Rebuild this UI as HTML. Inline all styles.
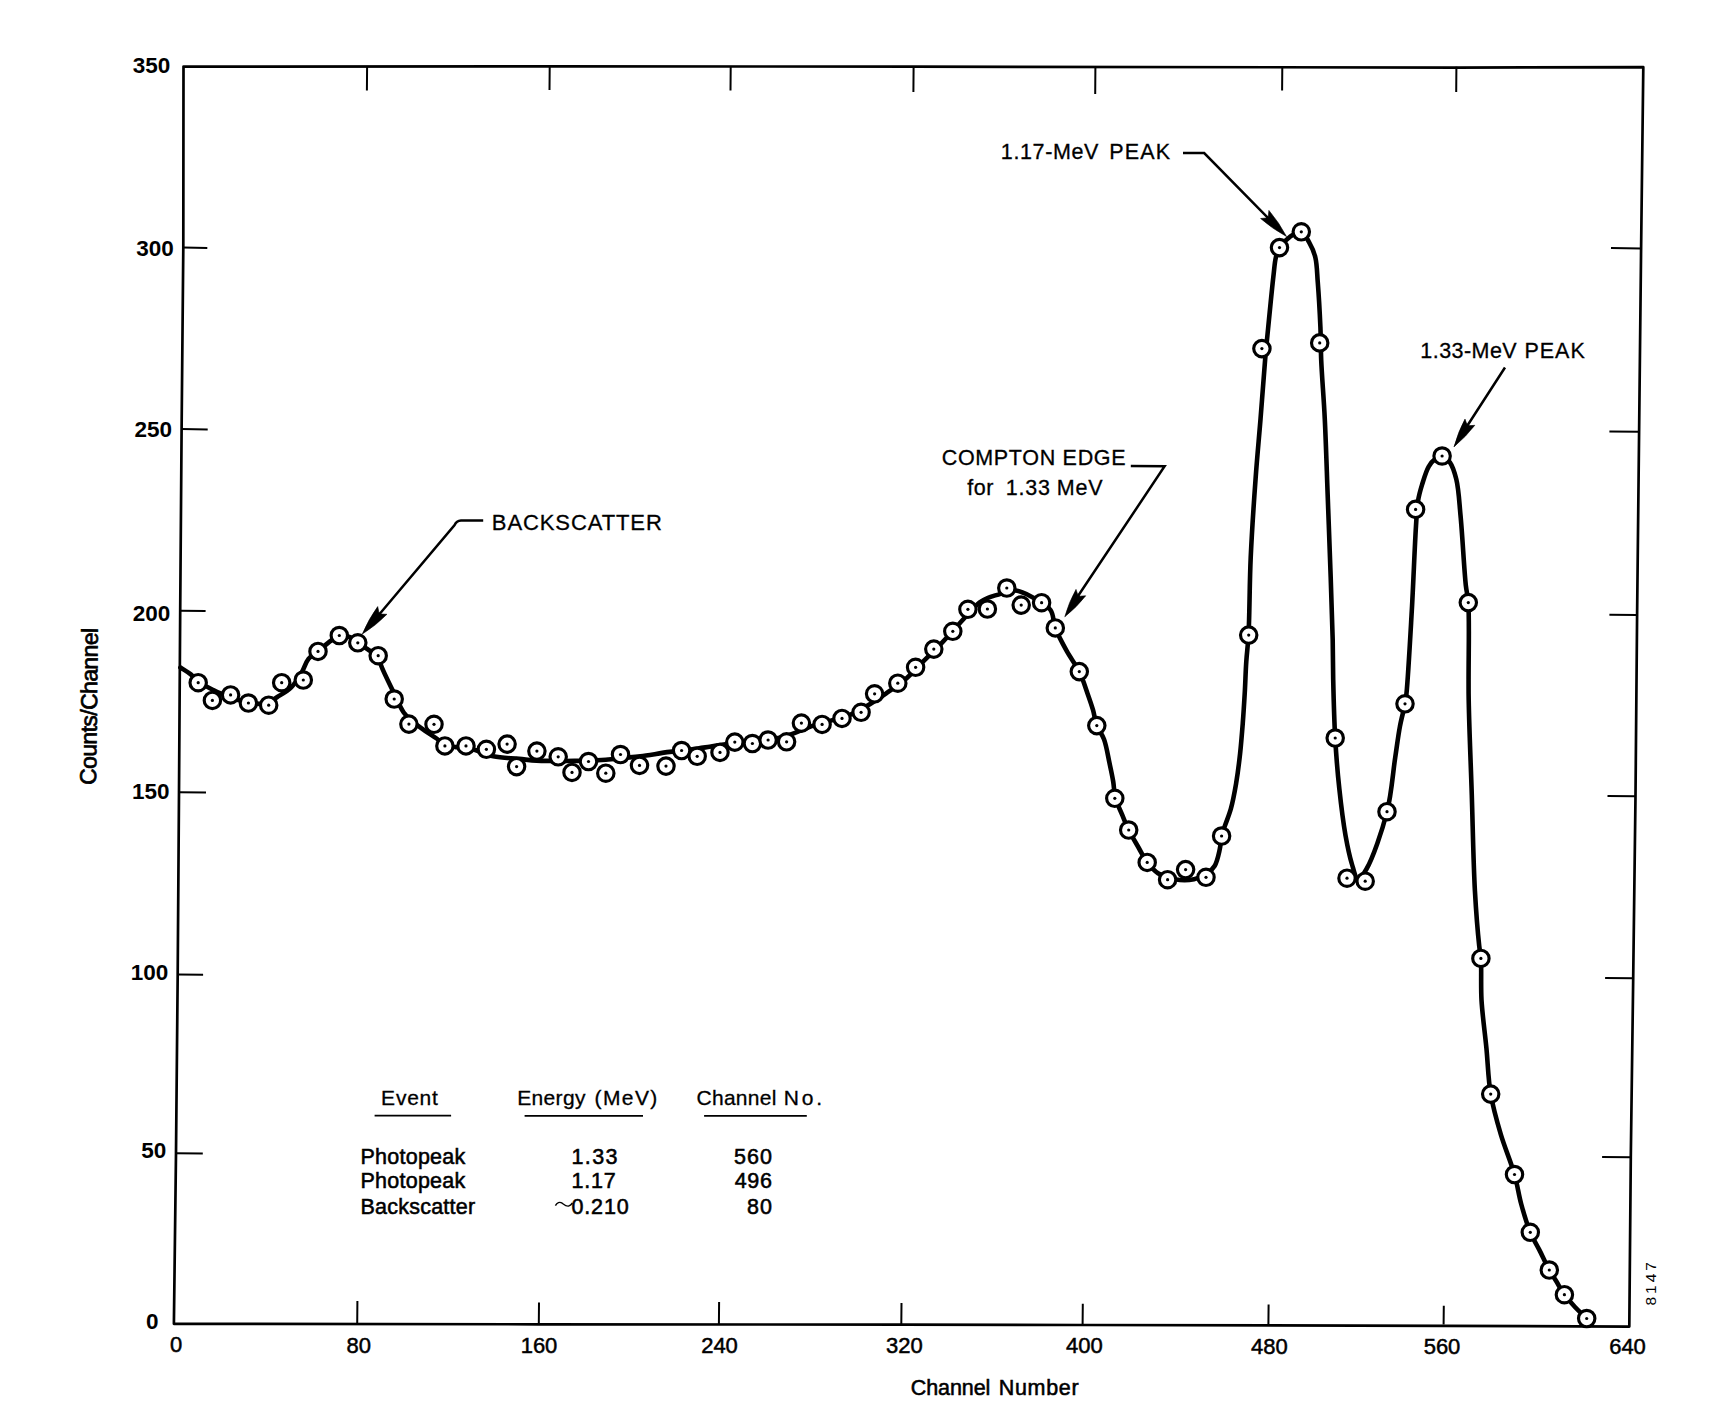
<!DOCTYPE html>
<html><head><meta charset="utf-8"><style>
html,body{margin:0;padding:0;background:#fff;}
svg{display:block;}
text{font-family:"Liberation Sans", sans-serif;fill:#000;}
</style></head><body>
<svg width="1733" height="1417" viewBox="0 0 1733 1417">
<rect width="1733" height="1417" fill="#fff"/>
<path d="M183.5,66.6 L183.3,247.6 L181.6,429.1 L180.2,610.7 L179,792.3 L177.7,974.4 L176,1153.3 L173.9,1323.8 L538.8,1324.3 L901.3,1324.6 L1082.6,1325 L1443.6,1325.8 L1629.3,1326.6 L1630.8,1157.3 L1633.2,978.3 L1635.5,796.3 L1637.1,615 L1639.1,431.8 L1641.1,248.4 L1643.3,67.2 L1456.4,67.6 L913.6,66.6 L549.7,66.3 Z" fill="none" stroke="#000" stroke-width="2.7" stroke-linejoin="round"/>
<path d="M183.3,247.6 L207.3,247.9 M181.6,429.1 L207.7,429.4 M180.2,610.7 L205.6,611 M179,792.3 L206,792.6 M177.7,974.4 L203.1,974.7 M176,1153.3 L202.8,1153.6 M1641.1,248.4 L1611,248.1 M1639.1,431.8 L1609.4,431.5 M1637.1,615 L1609.4,614.7 M1635.5,796.3 L1607.5,796 M1633.2,978.3 L1605.1,978 M1630.8,1157.3 L1602.1,1157 M367.1,66.8 L366.9,90.4 M549.7,66.8 L549.5,89.9 M730.7,66.8 L730.5,90.4 M913.6,66.8 L913.4,92 M1095.4,66.8 L1095.2,93.9 M1282.3,66.8 L1282.1,90.4 M1456.4,66.8 L1456.2,92 M357.2,1324.5 L357.4,1301.1 M538.8,1324.5 L539,1302.5 M718.9,1324.5 L719.1,1301.9 M901.3,1324.5 L901.5,1303 M1082.6,1324.5 L1082.8,1303.8 M1268.4,1324.5 L1268.6,1304.6 M1443.6,1324.5 L1443.8,1305.7" fill="none" stroke="#000" stroke-width="2"/>
<path d="M180.4,667.5 C183.9,669.8 187.7,671.9 190.8,674.4 C193.6,676.6 195.1,679.2 198.2,681.5 C202.2,684.5 208.9,687.8 213.3,690 C216.5,691.7 218.5,692.6 221.9,694 C226.6,696 234.3,698.9 239.2,700.4 C242.7,701.4 245.1,701.9 248.4,702.5 C252,703.1 256.4,704.1 260,703.9 C263.1,703.8 265.9,703.2 268.7,702.1 C271.7,700.9 274.1,699 277.3,697 C281.4,694.4 287.2,691.4 291.2,687.4 C295.3,683.3 298.6,677.6 301.6,672.7 C304.3,668.1 305.5,662.6 308.5,658.9 C311.1,655.7 314.6,654.1 318,651.4 C322,648.2 327.1,643.5 331,640.7 C334,638.5 336.2,636.1 339.3,635.5 C342.5,634.8 346.8,635.9 350,637.2 C353,638.4 354.9,640.8 357.8,642.8 C361.2,645.1 365.4,648 369,650.2 C372.2,652.2 376.2,653.1 378.2,655.7 C380.2,658.3 379.7,661.7 381.2,665.8 C383.7,672.5 389.4,683.6 393.3,691.7 C396.8,699 400,707.3 403.7,712.5 C406.4,716.3 409,718.3 412.3,721.2 C416.3,724.7 421.9,728.5 426.2,731.6 C429.9,734.2 433.4,736.2 436.6,738.5 C439.6,740.6 441.8,743.6 444.9,745 C448.1,746.5 452,746.8 455.6,747.1 C459.1,747.4 462.6,746.5 466,747 C469.4,747.5 472.2,748.9 476,750.2 C481,751.9 486.9,754.9 493.3,756.3 C501,758 511.4,758.1 519.2,758.9 C525.5,759.5 530.7,760.3 536.5,760.6 C542.3,760.9 547.8,760.8 553.9,760.9 C560.5,761 568.4,761 574.6,760.9 C579.7,760.8 583.6,760.8 588.5,760.6 C594,760.4 600,760.1 605.8,759.7 C611.6,759.3 617.3,758.6 623.1,758 C628.9,757.4 633.9,757.1 640.4,756.3 C648.9,755.2 660.6,753.1 669.8,751.9 C677.8,750.8 685.3,750.2 692.3,749.3 C698.5,748.5 703.8,747.6 709.6,746.7 C715.4,745.8 721.2,744.9 727,744.1 C732.7,743.3 738.6,742.3 744.2,741.8 C749.5,741.3 754.5,741.5 759.8,740.9 C765.4,740.3 771.4,739.6 777.1,738.3 C782.9,737 788.7,735.1 794.4,733.1 C800.2,731.1 805.6,728.3 811.7,726.2 C818.3,723.9 825.7,722.2 832.5,720.1 C839,718.1 845.4,716.8 851.6,714.1 C858.1,711.3 864.7,707.3 870.6,703.7 C876.1,700.3 880.8,697.1 886.2,693.3 C892.3,689.1 899.1,684.7 905.2,679.4 C911.8,673.8 917.9,666.7 924.3,660.4 C930.6,654.1 937.2,647.8 943.3,641.4 C949.3,635.1 954.6,628.7 960.6,622.3 C966.8,615.7 974.5,606.4 979.7,602.4 C982.7,600.1 984.5,599.3 987.5,598 C991.2,596.4 996.8,595.1 1000.4,593.8 C1003,592.9 1004.6,591.9 1007,591.3 C1009.7,590.7 1012.7,590 1016,590.5 C1020.4,591.2 1025.8,593.7 1031,596.5 C1037.3,599.9 1046.5,604.3 1050.5,610 C1054,615 1053,621.7 1055.3,627.9 C1058.1,635.3 1062.7,643.8 1066.8,651.2 C1070.7,658.3 1075.8,664.5 1079.3,671.6 C1082.7,678.6 1085.1,686.6 1087.5,693.4 C1089.6,699.3 1091.4,704.4 1093,709.9 C1094.5,715.1 1094.9,720.6 1096.8,725.5 C1098.6,730.4 1102,733.9 1104,739.3 C1106.5,746 1107.9,755.7 1109.5,763.1 C1110.9,769.6 1112.2,775.5 1113.2,781.5 C1114.1,787.1 1114,792.6 1115.4,798 C1116.9,803.6 1119.8,809 1122,814.4 C1124.2,819.7 1126.1,824.7 1128.7,830 C1131.6,835.9 1135.6,842.3 1138.8,848 C1141.7,853.1 1143.9,858.1 1147.2,862.4 C1150.4,866.5 1153.6,870.4 1158,873.2 C1162.7,876.2 1168.9,878.2 1174.8,879.2 C1180.9,880.3 1188.4,880.3 1194,879.2 C1198.6,878.3 1202.5,876.7 1206,874.4 C1209.4,872.2 1212.4,869.6 1214.6,866 C1217.2,861.7 1218.5,854.9 1219.7,849.6 C1220.8,844.9 1220.6,840.2 1221.6,836 C1222.5,832.1 1223.8,829.1 1225.2,825.1 C1226.9,820.2 1229.2,814.8 1230.9,808.7 C1232.9,801.4 1234.5,792.8 1236,784.1 C1237.6,774.5 1239,763.7 1240.1,753.5 C1241.2,743.3 1242,733 1242.8,722.8 C1243.6,712.6 1244.2,702.3 1244.8,692.1 C1245.4,681.9 1245.6,671.2 1246.3,661.4 C1246.9,652.3 1247.9,646.1 1248.5,635 C1249.6,616 1249.5,583.6 1250.7,557.7 C1251.9,531.5 1253.8,503.1 1255.6,478.6 C1257.1,457.4 1258.9,439.1 1260.5,419.3 C1262.1,399.5 1263.5,378.5 1265.1,360 C1266.5,343.8 1268.1,328.8 1269.5,314.3 C1270.8,301 1272.2,286.7 1273.4,276.2 C1274.3,268.8 1274.6,262.4 1275.9,257.2 C1276.9,253.4 1277.5,250.7 1279.5,247.6 C1281.9,243.9 1286.1,239.5 1289.9,236.8 C1293.4,234.4 1298.1,231 1301.3,231.8 C1304.5,232.6 1306.7,238 1308.9,241.9 C1311.4,246.3 1313.8,251.3 1315.3,257.2 C1317.1,264.5 1317,273 1317.8,282.6 C1318.8,295.3 1319.8,313.3 1320.4,327 C1320.9,338.8 1320.7,347.4 1321.2,360 C1321.9,376.9 1323.8,398.1 1324.8,419.3 C1326,443.8 1326.8,472 1327.8,498.4 C1328.8,524.8 1329.8,552.7 1330.7,577.5 C1331.5,599.6 1332.3,621.6 1332.7,640 C1333,654.6 1332.9,664.9 1333.2,679.3 C1333.6,696.9 1334.1,719.2 1335.2,738 C1336.2,755.5 1337.5,772.1 1339.3,788.6 C1341,804.5 1343.1,821.8 1345.5,835.3 C1347.4,845.9 1349.3,855.4 1351.7,863.3 C1353.6,869.4 1355.3,878.6 1358,879 C1360.4,879.4 1363.6,874.1 1366.5,869 C1372.8,858.1 1382.2,830.8 1387,811.8 C1391.6,793.7 1392.8,773.2 1395.2,757.6 C1397,745.8 1398.1,736.1 1399.9,726.6 C1401.4,718.4 1403.9,710 1405,703.8 C1405.8,699.6 1406,698.4 1406.5,693.2 C1408,678.7 1410.2,638.3 1411.8,610.6 C1413.4,582.5 1414.7,545.9 1416,525.9 C1416.7,515 1416.8,508.1 1418.1,500.5 C1419.1,494.2 1420.7,489.1 1422.4,483.5 C1424.2,477.8 1426.2,470.9 1428.7,466.6 C1430.6,463.4 1432.6,461 1435,459.2 C1437.1,457.6 1439.8,455.7 1442.1,456 C1444.7,456.4 1447.7,459.4 1449.9,462.4 C1452.8,466.4 1454.6,472.5 1456.3,479.3 C1458.7,488.9 1459.2,501.3 1460.5,515.3 C1462.4,534.8 1464.1,569.7 1465.8,585.2 C1466.7,593 1467.7,594.4 1468.3,602.6 C1469.7,621.9 1468.1,667.7 1468.7,700 C1469.3,731.9 1470.8,763.5 1471.8,795.3 C1472.8,827.1 1473.4,863.2 1474.9,890.6 C1476.1,911.5 1477.9,933.8 1479.2,945.7 C1479.8,951.4 1480.5,952.9 1480.9,958.4 C1481.6,968.3 1480.7,985.7 1481.5,1000 C1482.4,1015.4 1484.9,1032.2 1486.4,1048 C1487.9,1063.5 1488.2,1079.3 1490.7,1094.1 C1493.1,1108.1 1496.9,1121.1 1500.8,1134.4 C1504.8,1147.9 1511,1162.1 1514.5,1174.5 C1517.5,1185 1518.6,1194.3 1521.2,1204 C1523.8,1213.6 1526.9,1224.1 1530.3,1232.3 C1533,1238.9 1536.2,1243.6 1539.2,1249.6 C1542.5,1256.1 1546.1,1264.3 1549.3,1270 C1551.7,1274.2 1553.7,1277 1556,1280.8 C1558.7,1285.1 1561.2,1290.3 1564.4,1294.7 C1567.6,1299.1 1571.5,1303.2 1575.2,1307.2 C1578.9,1311.1 1582.9,1314.7 1586.7,1318.5" fill="none" stroke="#000" stroke-width="4.6" stroke-linejoin="round" stroke-linecap="round"/>
<g fill="#fff" stroke="#000" stroke-width="3.15"><circle cx="198.2" cy="682.7" r="8.2"/><circle cx="212.4" cy="700.4" r="8.2"/><circle cx="230.6" cy="694.9" r="8.2"/><circle cx="248.4" cy="703" r="8.2"/><circle cx="268.7" cy="705.2" r="8.2"/><circle cx="281.7" cy="682.7" r="8.2"/><circle cx="303.3" cy="680" r="8.2"/><circle cx="318" cy="651.4" r="8.2"/><circle cx="339.3" cy="635.5" r="8.2"/><circle cx="357.8" cy="642.8" r="8.2"/><circle cx="378.2" cy="655.7" r="8.2"/><circle cx="394.2" cy="699" r="8.2"/><circle cx="408.9" cy="724.1" r="8.2"/><circle cx="434" cy="724.3" r="8.2"/><circle cx="444.9" cy="745.9" r="8.2"/><circle cx="466" cy="745.9" r="8.2"/><circle cx="486.4" cy="749.3" r="8.2"/><circle cx="507.1" cy="744.1" r="8.2"/><circle cx="516.6" cy="766.6" r="8.2"/><circle cx="536.9" cy="751.1" r="8.2"/><circle cx="558.2" cy="756.8" r="8.2"/><circle cx="572" cy="772.4" r="8.2"/><circle cx="588.5" cy="761.5" r="8.2"/><circle cx="605.8" cy="773.2" r="8.2"/><circle cx="620.5" cy="754.5" r="8.2"/><circle cx="639.5" cy="765.4" r="8.2"/><circle cx="666" cy="766.1" r="8.2"/><circle cx="681.6" cy="750.5" r="8.2"/><circle cx="697.2" cy="756.3" r="8.2"/><circle cx="720" cy="752.4" r="8.2"/><circle cx="734.8" cy="742.1" r="8.2"/><circle cx="752.4" cy="743.5" r="8.2"/><circle cx="768.1" cy="740" r="8.2"/><circle cx="786.6" cy="741.8" r="8.2"/><circle cx="801.4" cy="723.1" r="8.2"/><circle cx="822.1" cy="724.4" r="8.2"/><circle cx="842" cy="718.4" r="8.2"/><circle cx="861.1" cy="712.3" r="8.2"/><circle cx="874.6" cy="693.8" r="8.2"/><circle cx="897.8" cy="683.2" r="8.2"/><circle cx="915.6" cy="667.3" r="8.2"/><circle cx="933.8" cy="649.1" r="8.2"/><circle cx="952.8" cy="631.3" r="8.2"/><circle cx="967.9" cy="609.3" r="8.2"/><circle cx="987.4" cy="609" r="8.2"/><circle cx="1006.8" cy="588" r="8.2"/><circle cx="1021.2" cy="605.1" r="8.2"/><circle cx="1041.6" cy="602.7" r="8.2"/><circle cx="1055.3" cy="627.9" r="8.2"/><circle cx="1079.3" cy="671.6" r="8.2"/><circle cx="1096.8" cy="725.6" r="8.2"/><circle cx="1114.8" cy="798.3" r="8.2"/><circle cx="1128.7" cy="830" r="8.2"/><circle cx="1147.2" cy="862.4" r="8.2"/><circle cx="1167.6" cy="879.7" r="8.2"/><circle cx="1185.6" cy="869.6" r="8.2"/><circle cx="1206" cy="877.3" r="8.2"/><circle cx="1221.6" cy="836" r="8.2"/><circle cx="1248.7" cy="635.1" r="8.2"/><circle cx="1261.9" cy="348.6" r="8.2"/><circle cx="1279.5" cy="247.6" r="8.2"/><circle cx="1301.3" cy="231.8" r="8.2"/><circle cx="1319.7" cy="342.9" r="8.2"/><circle cx="1335.2" cy="738" r="8.2"/><circle cx="1347" cy="878.2" r="8.2"/><circle cx="1365.2" cy="881.2" r="8.2"/><circle cx="1387" cy="811.7" r="8.2"/><circle cx="1405" cy="703.8" r="8.2"/><circle cx="1415.6" cy="509.4" r="8.2"/><circle cx="1442.1" cy="456" r="8.2"/><circle cx="1468.3" cy="602.6" r="8.2"/><circle cx="1480.9" cy="958.4" r="8.2"/><circle cx="1490.7" cy="1094.1" r="8.2"/><circle cx="1514.5" cy="1174.5" r="8.2"/><circle cx="1530.3" cy="1232.3" r="8.2"/><circle cx="1549.3" cy="1270" r="8.2"/><circle cx="1564.4" cy="1294.7" r="8.2"/><circle cx="1586.7" cy="1318.5" r="8.2"/></g>
<g fill="#000"><circle cx="198.2" cy="682.7" r="1.6"/><circle cx="212.4" cy="700.4" r="1.6"/><circle cx="230.6" cy="694.9" r="1.6"/><circle cx="248.4" cy="703" r="1.6"/><circle cx="268.7" cy="705.2" r="1.6"/><circle cx="281.7" cy="682.7" r="1.6"/><circle cx="303.3" cy="680" r="1.6"/><circle cx="318" cy="651.4" r="1.6"/><circle cx="339.3" cy="635.5" r="1.6"/><circle cx="357.8" cy="642.8" r="1.6"/><circle cx="378.2" cy="655.7" r="1.6"/><circle cx="394.2" cy="699" r="1.6"/><circle cx="408.9" cy="724.1" r="1.6"/><circle cx="434" cy="724.3" r="1.6"/><circle cx="444.9" cy="745.9" r="1.6"/><circle cx="466" cy="745.9" r="1.6"/><circle cx="486.4" cy="749.3" r="1.6"/><circle cx="507.1" cy="744.1" r="1.6"/><circle cx="516.6" cy="766.6" r="1.6"/><circle cx="536.9" cy="751.1" r="1.6"/><circle cx="558.2" cy="756.8" r="1.6"/><circle cx="572" cy="772.4" r="1.6"/><circle cx="588.5" cy="761.5" r="1.6"/><circle cx="605.8" cy="773.2" r="1.6"/><circle cx="620.5" cy="754.5" r="1.6"/><circle cx="639.5" cy="765.4" r="1.6"/><circle cx="666" cy="766.1" r="1.6"/><circle cx="681.6" cy="750.5" r="1.6"/><circle cx="697.2" cy="756.3" r="1.6"/><circle cx="720" cy="752.4" r="1.6"/><circle cx="734.8" cy="742.1" r="1.6"/><circle cx="752.4" cy="743.5" r="1.6"/><circle cx="768.1" cy="740" r="1.6"/><circle cx="786.6" cy="741.8" r="1.6"/><circle cx="801.4" cy="723.1" r="1.6"/><circle cx="822.1" cy="724.4" r="1.6"/><circle cx="842" cy="718.4" r="1.6"/><circle cx="861.1" cy="712.3" r="1.6"/><circle cx="874.6" cy="693.8" r="1.6"/><circle cx="897.8" cy="683.2" r="1.6"/><circle cx="915.6" cy="667.3" r="1.6"/><circle cx="933.8" cy="649.1" r="1.6"/><circle cx="952.8" cy="631.3" r="1.6"/><circle cx="967.9" cy="609.3" r="1.6"/><circle cx="987.4" cy="609" r="1.6"/><circle cx="1006.8" cy="588" r="1.6"/><circle cx="1021.2" cy="605.1" r="1.6"/><circle cx="1041.6" cy="602.7" r="1.6"/><circle cx="1055.3" cy="627.9" r="1.6"/><circle cx="1079.3" cy="671.6" r="1.6"/><circle cx="1096.8" cy="725.6" r="1.6"/><circle cx="1114.8" cy="798.3" r="1.6"/><circle cx="1128.7" cy="830" r="1.6"/><circle cx="1147.2" cy="862.4" r="1.6"/><circle cx="1167.6" cy="879.7" r="1.6"/><circle cx="1185.6" cy="869.6" r="1.6"/><circle cx="1206" cy="877.3" r="1.6"/><circle cx="1221.6" cy="836" r="1.6"/><circle cx="1248.7" cy="635.1" r="1.6"/><circle cx="1261.9" cy="348.6" r="1.6"/><circle cx="1279.5" cy="247.6" r="1.6"/><circle cx="1301.3" cy="231.8" r="1.6"/><circle cx="1319.7" cy="342.9" r="1.6"/><circle cx="1335.2" cy="738" r="1.6"/><circle cx="1347" cy="878.2" r="1.6"/><circle cx="1365.2" cy="881.2" r="1.6"/><circle cx="1387" cy="811.7" r="1.6"/><circle cx="1405" cy="703.8" r="1.6"/><circle cx="1415.6" cy="509.4" r="1.6"/><circle cx="1442.1" cy="456" r="1.6"/><circle cx="1468.3" cy="602.6" r="1.6"/><circle cx="1480.9" cy="958.4" r="1.6"/><circle cx="1490.7" cy="1094.1" r="1.6"/><circle cx="1514.5" cy="1174.5" r="1.6"/><circle cx="1530.3" cy="1232.3" r="1.6"/><circle cx="1549.3" cy="1270" r="1.6"/><circle cx="1564.4" cy="1294.7" r="1.6"/><circle cx="1586.7" cy="1318.5" r="1.6"/></g>
<path d="M483.2,520.6 L461,520.6 Q456.5,521 454.6,525 L372,623 M1130.8,466 L1164.6,466.3 L1072,605 M1183,153.1 L1204.2,153.1 L1278,228 M1505,367.5 L1460,437" fill="none" stroke="#000" stroke-width="2.5"/>
<path d="M374.6,1115.6 L451.1,1115.6 M524.6,1115.8 L643,1115.8 M704.1,1115.8 L806.8,1115.8" fill="none" stroke="#000" stroke-width="1.8"/>
<path d="M362.3,634.1 Q368.6,619.2 377.7,606.6 L378.9,612.4 L380.9,614.1 L386.9,614.3 Q376,625.4 362.3,634.1 Z M1064.8,616.8 Q1068.9,602.2 1076,589.4 L1077.8,594.8 L1080,596.2 L1085.7,595.8 Q1076.7,607.3 1064.8,616.8 Z M1286.5,236.5 Q1272.3,228.7 1260.6,218.5 L1266.4,218 L1268.3,216.2 L1268.9,210.4 Q1278.9,222.2 1286.5,236.5 Z M1454.2,446.6 Q1458.1,431.9 1465,419.1 L1466.9,424.4 L1469.1,425.8 L1474.8,425.3 Q1465.9,436.9 1454.2,446.6 Z M1454.2,446.6 L1464.6,421.2 L1467.8,425.6 L1473.3,426.4 Z" fill="#000" stroke="#000" stroke-width="0.6" stroke-linejoin="round"/>
<text x="170.4" y="73.2" font-size="22.5" font-weight="bold" text-anchor="end">350</text>
<text x="173.8" y="256" font-size="22.5" font-weight="bold" text-anchor="end">300</text>
<text x="172.1" y="436.8" font-size="22.5" font-weight="bold" text-anchor="end">250</text>
<text x="170.4" y="620.7" font-size="22.5" font-weight="bold" text-anchor="end">200</text>
<text x="169.6" y="799" font-size="22.5" font-weight="bold" text-anchor="end">150</text>
<text x="168.2" y="980" font-size="22.5" font-weight="bold" text-anchor="end">100</text>
<text x="166.2" y="1158.3" font-size="22.5" font-weight="bold" text-anchor="end">50</text>
<text x="158.5" y="1328.5" font-size="22.5" font-weight="bold" text-anchor="end">0</text>
<text x="176.2" y="1352.4" font-size="22" font-weight="normal" text-anchor="middle" stroke="#000" stroke-width="0.5">0</text>
<text x="358.8" y="1352.6" font-size="22" font-weight="normal" text-anchor="middle" stroke="#000" stroke-width="0.5">80</text>
<text x="539" y="1352.7" font-size="22" font-weight="normal" text-anchor="middle" stroke="#000" stroke-width="0.5">160</text>
<text x="719.5" y="1352.9" font-size="22" font-weight="normal" text-anchor="middle" stroke="#000" stroke-width="0.5">240</text>
<text x="904.4" y="1353.1" font-size="22" font-weight="normal" text-anchor="middle" stroke="#000" stroke-width="0.5">320</text>
<text x="1084.4" y="1353.3" font-size="22" font-weight="normal" text-anchor="middle" stroke="#000" stroke-width="0.5">400</text>
<text x="1269.4" y="1353.5" font-size="22" font-weight="normal" text-anchor="middle" stroke="#000" stroke-width="0.5">480</text>
<text x="1442" y="1353.6" font-size="22" font-weight="normal" text-anchor="middle" stroke="#000" stroke-width="0.5">560</text>
<text x="1627.5" y="1353.8" font-size="22" font-weight="normal" text-anchor="middle" stroke="#000" stroke-width="0.5">640</text>
<text x="491.8" y="530.2" font-size="22" textLength="170.00" lengthAdjust="spacing" stroke="#000" stroke-width="0.3">BACKSCATTER</text>
<text x="941.7" y="465.3" font-size="21.5" textLength="113.50" lengthAdjust="spacing" stroke="#000" stroke-width="0.3">COMPTON</text>
<text x="1062.6" y="465.3" font-size="21.5" textLength="63.00" lengthAdjust="spacing" stroke="#000" stroke-width="0.3">EDGE</text>
<text x="967.3" y="494.5" font-size="21.5" textLength="26.00" lengthAdjust="spacing" stroke="#000" stroke-width="0.3">for</text>
<text x="1005.8" y="494.5" font-size="21.5" textLength="44.20" lengthAdjust="spacing" stroke="#000" stroke-width="0.3">1.33</text>
<text x="1056.7" y="494.5" font-size="21.5" textLength="45.80" lengthAdjust="spacing" stroke="#000" stroke-width="0.3">MeV</text>
<text x="1000.8" y="158.6" font-size="21.5" textLength="97.60" lengthAdjust="spacing" stroke="#000" stroke-width="0.3">1.17-MeV</text>
<text x="1109.3" y="158.6" font-size="21.5" textLength="60.90" lengthAdjust="spacing" stroke="#000" stroke-width="0.3">PEAK</text>
<text x="1420.3" y="357.7" font-size="21.5" textLength="96.40" lengthAdjust="spacing" stroke="#000" stroke-width="0.3">1.33-MeV</text>
<text x="1524.4" y="357.7" font-size="21.5" textLength="60.40" lengthAdjust="spacing" stroke="#000" stroke-width="0.3">PEAK</text>
<text x="381.1" y="1105.2" font-size="21" textLength="56.80" lengthAdjust="spacing" stroke="#000" stroke-width="0.3">Event</text>
<text x="517.3" y="1105.2" font-size="21" textLength="68.10" lengthAdjust="spacing" stroke="#000" stroke-width="0.3">Energy</text>
<text x="594.5" y="1105.2" font-size="21" textLength="62.80" lengthAdjust="spacing" stroke="#000" stroke-width="0.3">(MeV)</text>
<text x="696.6" y="1105.2" font-size="21" textLength="79.70" lengthAdjust="spacing" stroke="#000" stroke-width="0.3">Channel</text>
<text x="783.8" y="1105.2" font-size="21" textLength="38.40" lengthAdjust="spacing" stroke="#000" stroke-width="0.3">No.</text>
<text x="360.4" y="1163.8" font-size="21.5" textLength="104.90" lengthAdjust="spacing" stroke="#000" stroke-width="0.55">Photopeak</text>
<text x="360.4" y="1188.3" font-size="21.5" textLength="104.90" lengthAdjust="spacing" stroke="#000" stroke-width="0.55">Photopeak</text>
<text x="360.4" y="1214.3" font-size="21.5" textLength="114.80" lengthAdjust="spacing" stroke="#000" stroke-width="0.55">Backscatter</text>
<text x="571.5" y="1163.8" font-size="21.5" textLength="45.90" lengthAdjust="spacing" stroke="#000" stroke-width="0.55">1.33</text>
<text x="571.5" y="1188.3" font-size="21.5" textLength="44.30" lengthAdjust="spacing" stroke="#000" stroke-width="0.55">1.17</text>
<text x="571.4" y="1214" font-size="21.5" textLength="57.30" lengthAdjust="spacing" stroke="#000" stroke-width="0.55">0.210</text>
<text x="733.9" y="1163.8" font-size="21.5" textLength="38.00" lengthAdjust="spacing" stroke="#000" stroke-width="0.55">560</text>
<text x="734.7" y="1188.3" font-size="21.5" textLength="37.20" lengthAdjust="spacing" stroke="#000" stroke-width="0.55">496</text>
<text x="747" y="1214.3" font-size="21.5" textLength="24.90" lengthAdjust="spacing" stroke="#000" stroke-width="0.55">80</text>
<text x="910.8" y="1394.5" font-size="21.5" textLength="79.60" lengthAdjust="spacing" stroke="#000" stroke-width="0.55">Channel</text>
<text x="998.7" y="1394.5" font-size="21.5" textLength="79.90" lengthAdjust="spacing" stroke="#000" stroke-width="0.55">Number</text>
<text transform="translate(96.0,785) rotate(-89.3)" font-size="23" stroke="#000" stroke-width="0.7" textLength="157" lengthAdjust="spacing">Counts/Channel</text>
<text transform="translate(1655.8,1305.5) rotate(-90)" font-size="15.5" textLength="43.5" lengthAdjust="spacing">8147</text>
<path d="M555.4,1205.6 C557,1202.6 559.6,1201.4 562.2,1203.2 C564.6,1205 566.6,1206.8 569,1205.9 C570.6,1205.3 571.6,1204.1 572.4,1203" fill="none" stroke="#000" stroke-width="1.4"/>
</svg>
</body></html>
